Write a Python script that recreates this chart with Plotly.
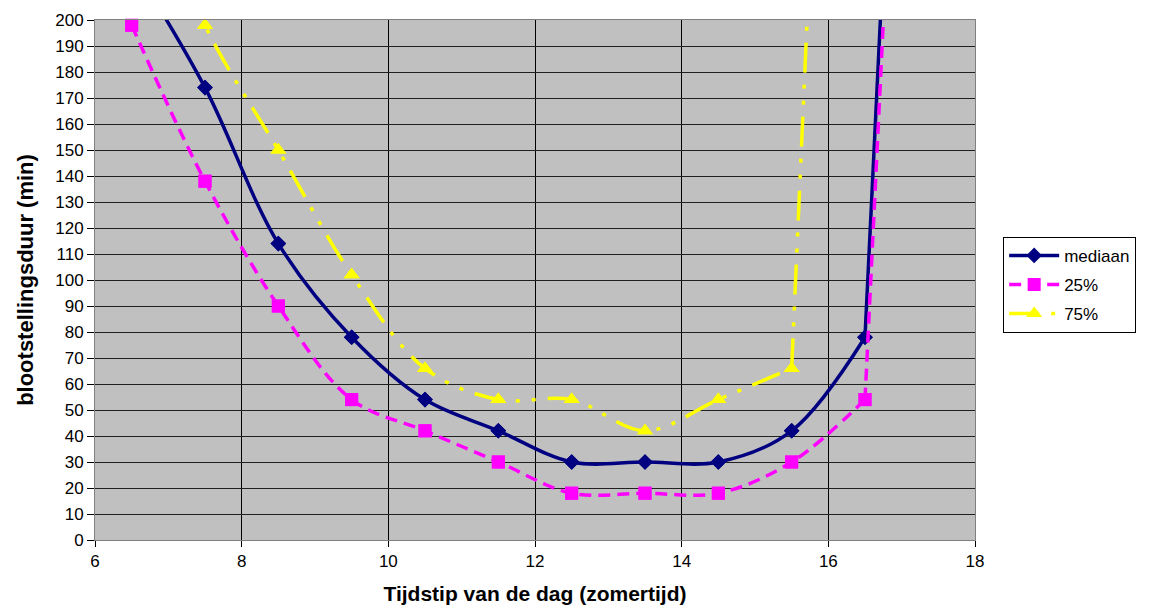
import numpy as np
import plotly.graph_objects as go

# tijdstip (uur, zomertijd)
uren = [6.5, 7.5, 8.5, 9.5, 10.5, 11.5, 12.5, 13.5, 14.5, 15.5, 16.5, 17.5]

# blootstellingsduur (min); waarden boven 200 vallen buiten beeld
mediaan = [222, 174, 114, 78, 54, 42, 30, 30, 30, 42, 78, 660]
p25 = [198, 138, 90, 54, 42, 30, 18, 18, 18, 30, 54, 636]
p75 = [270, 198, 150, 102, 66, 54, 54, 42, 54, 66, 702, None]

series = [
    ("mediaan", mediaan, "#000080", "solid", "diamond", 12),
    ("25%", p25, "#FF00FF", "12px,7px", "square", 13),
    ("75%", p75, "#FFFF00", "30px,12px,4px,12px,4px,12px", "triangle-up", 14),
]

fig = go.Figure()

for name, vals, color, dash, symbol, size in series:
    x = np.array(uren, dtype=float)
    y = np.array([np.nan if v is None else v for v in vals], dtype=float)
    ok = ~np.isnan(y)
    x, y = x[ok], y[ok]
    # the steep jump to the last (off-scale) value is drawn straight
    fig.add_trace(go.Scatter(
        x=x[:-1], y=y[:-1], name=name, legendgroup=name, mode="lines+markers",
        line=dict(color=color, width=3.5, dash=dash, shape="spline", smoothing=1),
        marker=dict(symbol=symbol, size=size, color=color),
    ))
    fig.add_trace(go.Scatter(
        x=x[-2:], y=y[-2:], legendgroup=name, showlegend=False, mode="lines",
        line=dict(color=color, width=3.5, dash=dash), hoverinfo="skip",
    ))
    # markers inside the range may stick out over the top edge
    inr = y <= 200
    fig.add_trace(go.Scatter(
        x=x[inr], y=y[inr], legendgroup=name, mode="markers", showlegend=False,
        cliponaxis=False, marker=dict(symbol=symbol, size=size, color=color),
        hoverinfo="skip",
    ))

fig.update_layout(
    width=1144, height=605,
    margin=dict(l=87, r=177, t=12, b=73),
    paper_bgcolor="white",
    plot_bgcolor="#C0C0C0",
    font=dict(family="Liberation Sans, Arial", size=17, color="black"),
    legend=dict(
        x=1.032, y=0.583, xanchor="left", yanchor="top",
        bgcolor="white", bordercolor="black", borderwidth=1,
        font=dict(size=17), tracegroupgap=4, itemwidth=50,
    ),
    xaxis=dict(
        range=[6, 18], dtick=2, tick0=6,
        showgrid=True, gridcolor="black", gridwidth=1,
        ticks="outside", ticklen=6, tickcolor="black",
        showline=True, linecolor="#808080", linewidth=1, mirror=True,
        zeroline=False, automargin=False,
        title=dict(text="<b>Tijdstip van de dag (zomertijd)</b>", font=dict(size=21)),
    ),
    yaxis=dict(
        range=[0, 200], dtick=10,
        showgrid=True, gridcolor="#202020", gridwidth=1,
        ticks="outside", ticklen=7, tickcolor="black",
        showline=True, linecolor="#808080", linewidth=1, mirror=True,
        zeroline=False, automargin=False,
        title=dict(text="<b>blootstellingsduur (min)</b>", font=dict(size=22)),
    ),
)

fig.write_html("out.html")
